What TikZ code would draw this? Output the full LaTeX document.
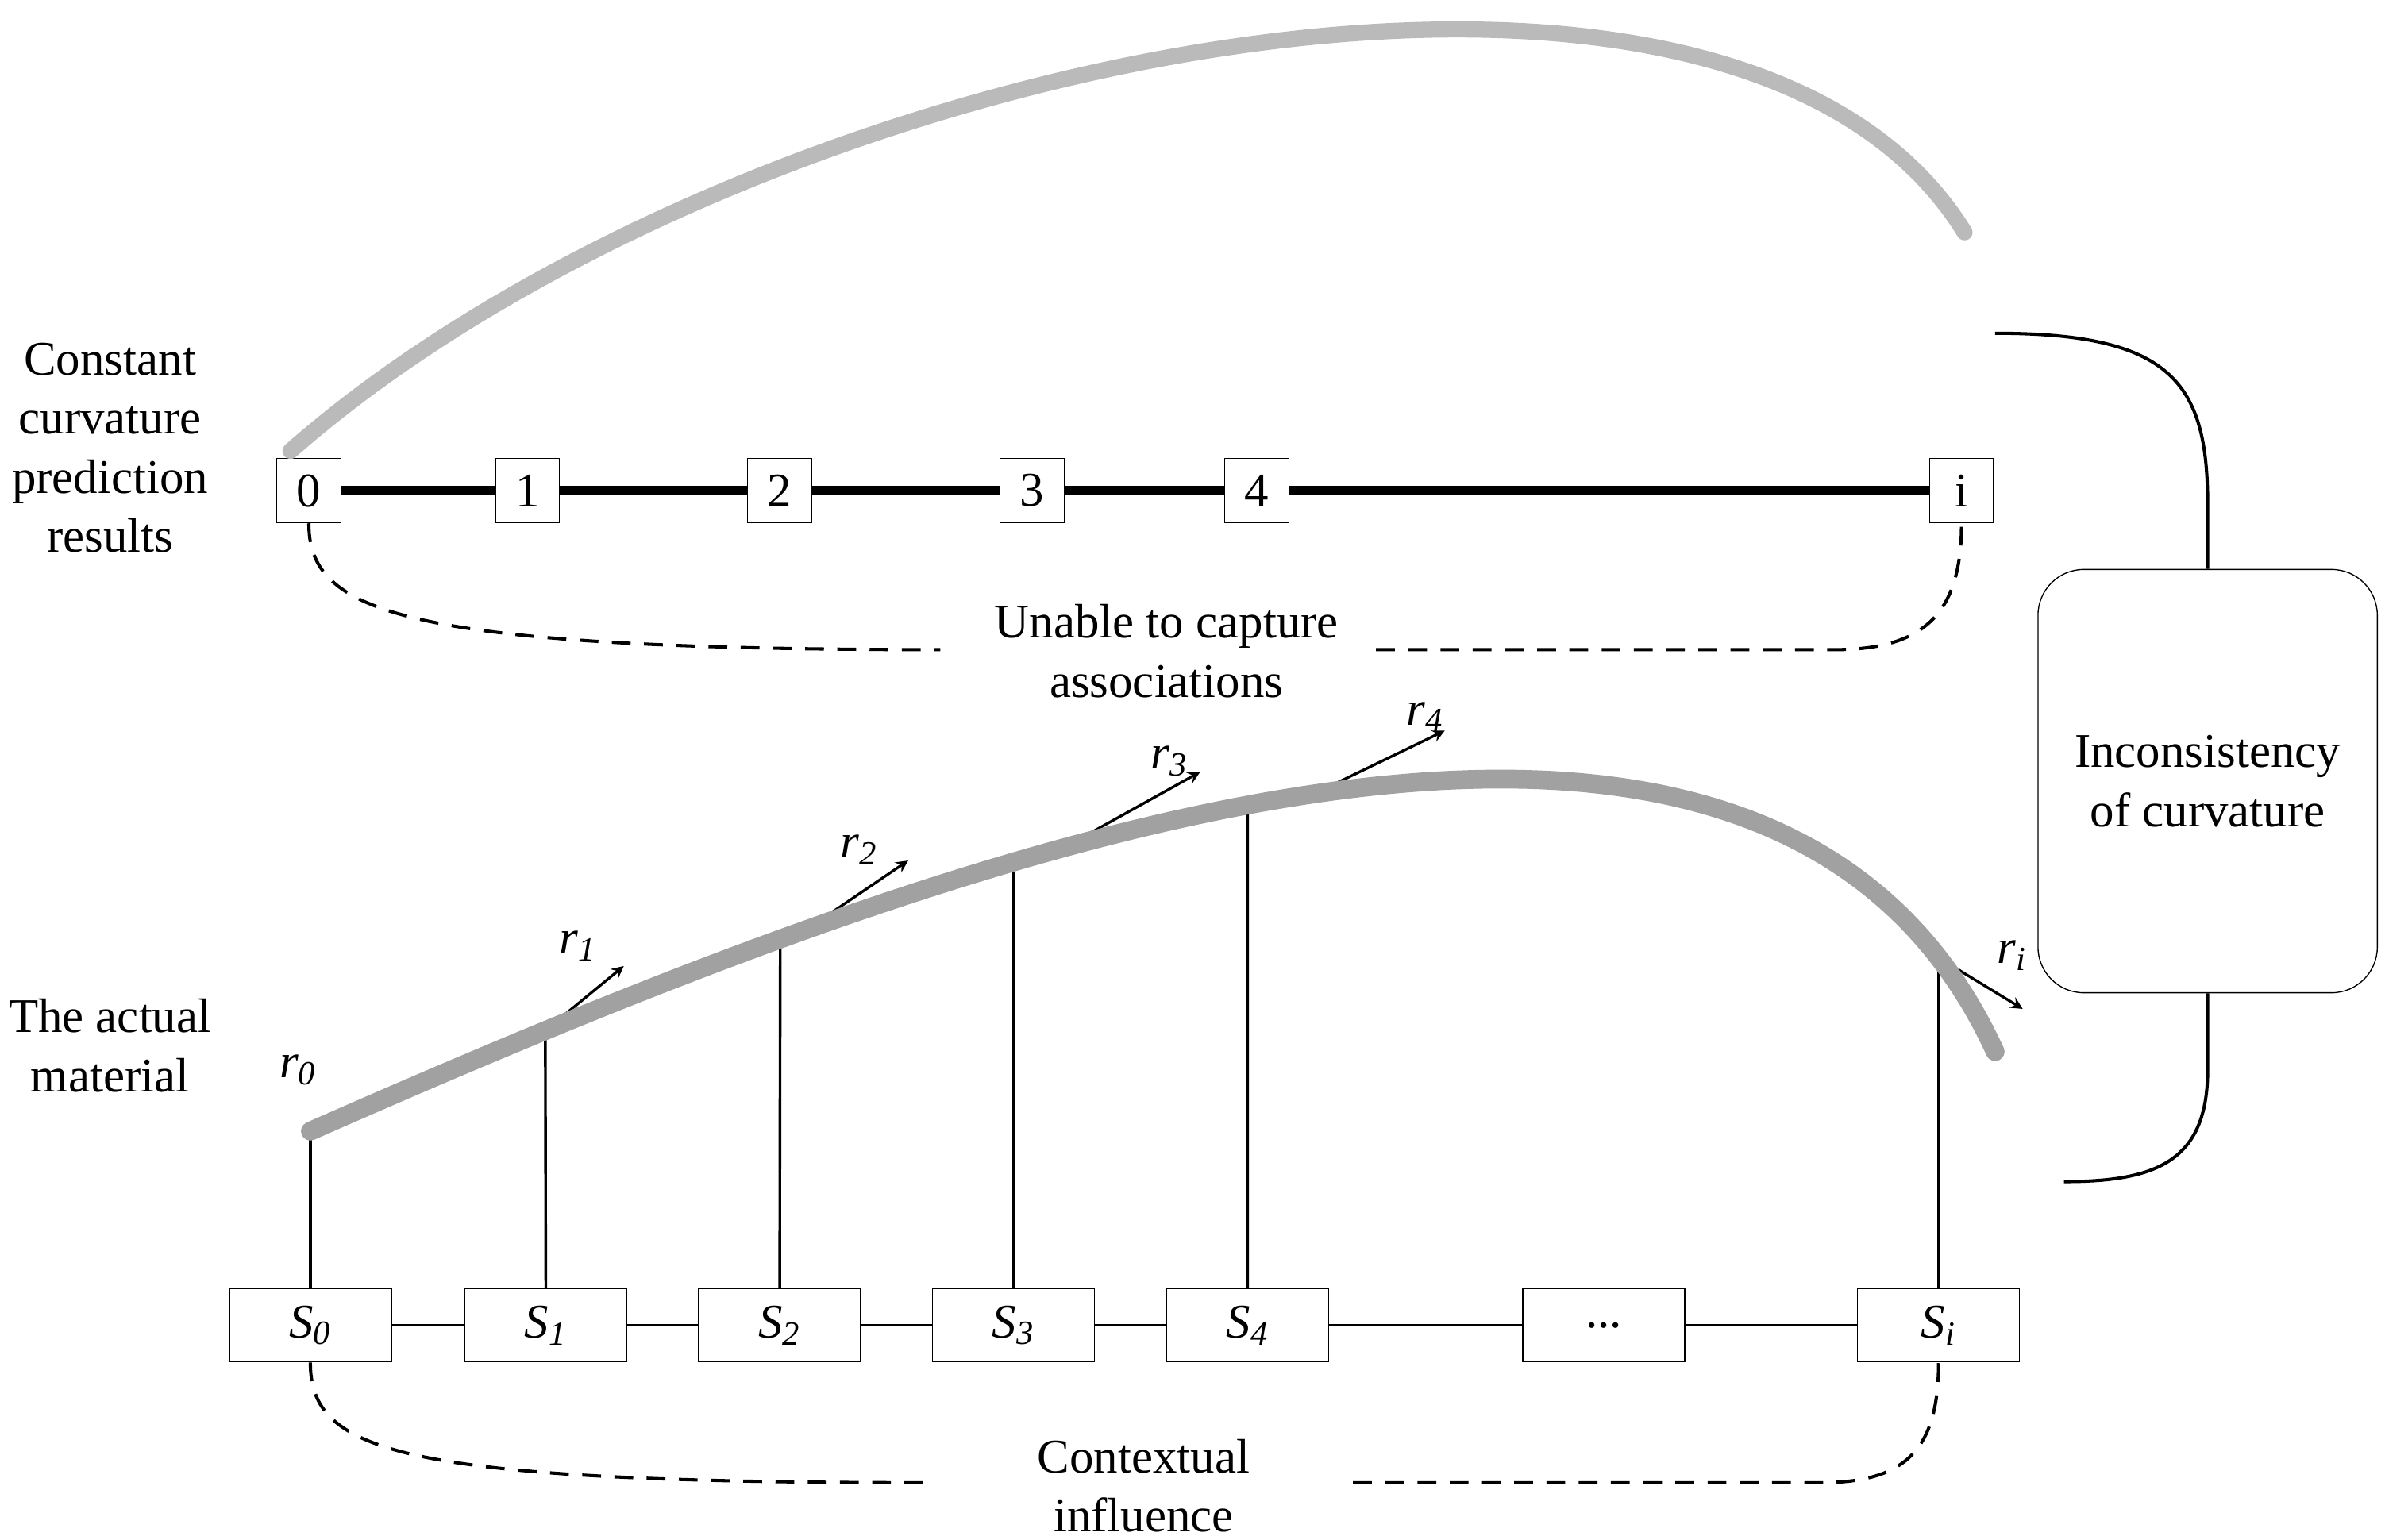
\documentclass[tikz,border=0pt]{standalone}
\usepackage{fontspec}
\setmainfont{Liberation Serif}
\begin{document}
\begin{tikzpicture}[x=0.02cm,y=-0.02cm,
  txt/.style={font=\fontsize{18}{22}\selectfont,align=center},
  nb/.style={draw,fill=white,minimum width=0.84cm,minimum height=0.84cm,inner sep=0pt,font=\fontsize{18}{22}\selectfont},
  sb/.style={draw,fill=white,minimum width=2.12cm,minimum height=0.96cm,inner sep=0pt,font=\fontsize{18}{22}\selectfont\itshape},
  dsh/.style={dashed,line width=1.2pt,dash pattern=on 7pt off 5pt},
  rl/.style={font=\fontsize{18}{22}\selectfont\itshape},
  arr/.style={-stealth,line width=1pt}]
\useasboundingbox (0,0) rectangle (1560,1007);
% top
\draw[line width=3.5pt] (202,321) -- (1283,321);
\foreach \n/\x in {0/202,1/345,2/510,3/675,4/822,i/1283}{\node[nb] (b\n) at (\x,321) {\n};}
\draw[line width=6pt,color=black!27,line cap=round] (190,295) .. controls (480,40) and (1130,-100) .. (1285,152);
\coordinate (ua) at (615,425); \coordinate (ub) at (900,425);
\draw[dsh] (b0.south) .. controls (202,400) and (260,425) .. (ua);
\draw[dsh] (ub) -- (1200,425) .. controls (1260,425) and (1283,400) .. (bi.south);
\node[txt] (ut) at (763,426) {Unable to capture\\associations};
\node[txt] (l1) at (72,293) {Constant\\curvature\\prediction\\results};
\node[txt] (l2) at (72,684) {The actual\\material};
% right box
\node[draw,rounded corners=0.6cm,minimum width=4.44cm,minimum height=5.54cm,txt] (inc) at (1444,511) {Inconsistency\\of curvature};
\coordinate (t1) at (1305,218); \coordinate (t2) at (1350,773);
\draw[line width=1.2pt] (t1) .. controls (1420,218) and (1444,250) .. (1444,330) -- (inc.north);
\draw[line width=1.2pt] (inc.south) -- (1444,700) .. controls (1444,760) and (1410,773) .. (t2);
% bottom
\foreach \n/\x in {0/203,1/357,2/510,3/663,4/816}{\node[sb] (s\n) at (\x,867) {S\textsubscript{\n}};}
\node[sb,font=\fontsize{18}{22}\selectfont] (sd) at (1049,867) {...};
\node[sb] (si) at (1268,867) {S\textsubscript{i}};
\draw[line width=1pt] (s0) -- (s1) -- (s2) -- (s3) -- (s4) -- (sd) -- (si);
\path (203,740) .. controls (600,565) and (1150,350) .. (1305,688)
  coordinate[pos=0] (c0) coordinate[pos=0.124] (c1) coordinate[pos=0.242] (c2)
  coordinate[pos=0.255] (a2) coordinate[pos=0.358] (c3) coordinate[pos=0.383] (a3)
  coordinate[pos=0.477] (c4) coordinate[pos=0.512] (a4) coordinate[pos=0.932] (ci);
\foreach \n in {0,1,2,3,4,i}{\draw[line width=1pt] (s\n.north) -- (c\n);}
\coordinate (e1) at (408,632); \coordinate (e2) at (594,563); \coordinate (e3) at (785,505);
\coordinate (e4) at (945,478); \coordinate (ei) at (1323,660);
\draw[arr] (c1) -- (e1); \draw[arr] (a2) -- (e2); \draw[arr] (a3) -- (e3);
\draw[arr] (a4) -- (e4); \draw[arr] (ci) -- (ei);
\draw[line width=7pt,color=black!37,line cap=round] (c0) .. controls (600,565) and (1150,350) .. (1305,688);
\node[rl] (r0) at (195,700) {r\textsubscript{0}}; \node[rl] (r1) at (378,619) {r\textsubscript{1}};
\node[rl] (r2) at (562,556) {r\textsubscript{2}}; \node[rl] (r3) at (765,498) {r\textsubscript{3}};
\node[rl] (r4) at (932,469) {r\textsubscript{4}}; \node[rl] (ri) at (1316,625) {r\textsubscript{i}};
\coordinate (ca) at (610,970); \coordinate (cb) at (885,970);
\draw[dsh] (s0.south) .. controls (203,950) and (260,970) .. (ca);
\draw[dsh] (cb) -- (1190,970) .. controls (1245,970) and (1268,950) .. (si.south);
\node[txt] (ct) at (748,972) {Contextual\\influence};
\end{tikzpicture}
\end{document}
